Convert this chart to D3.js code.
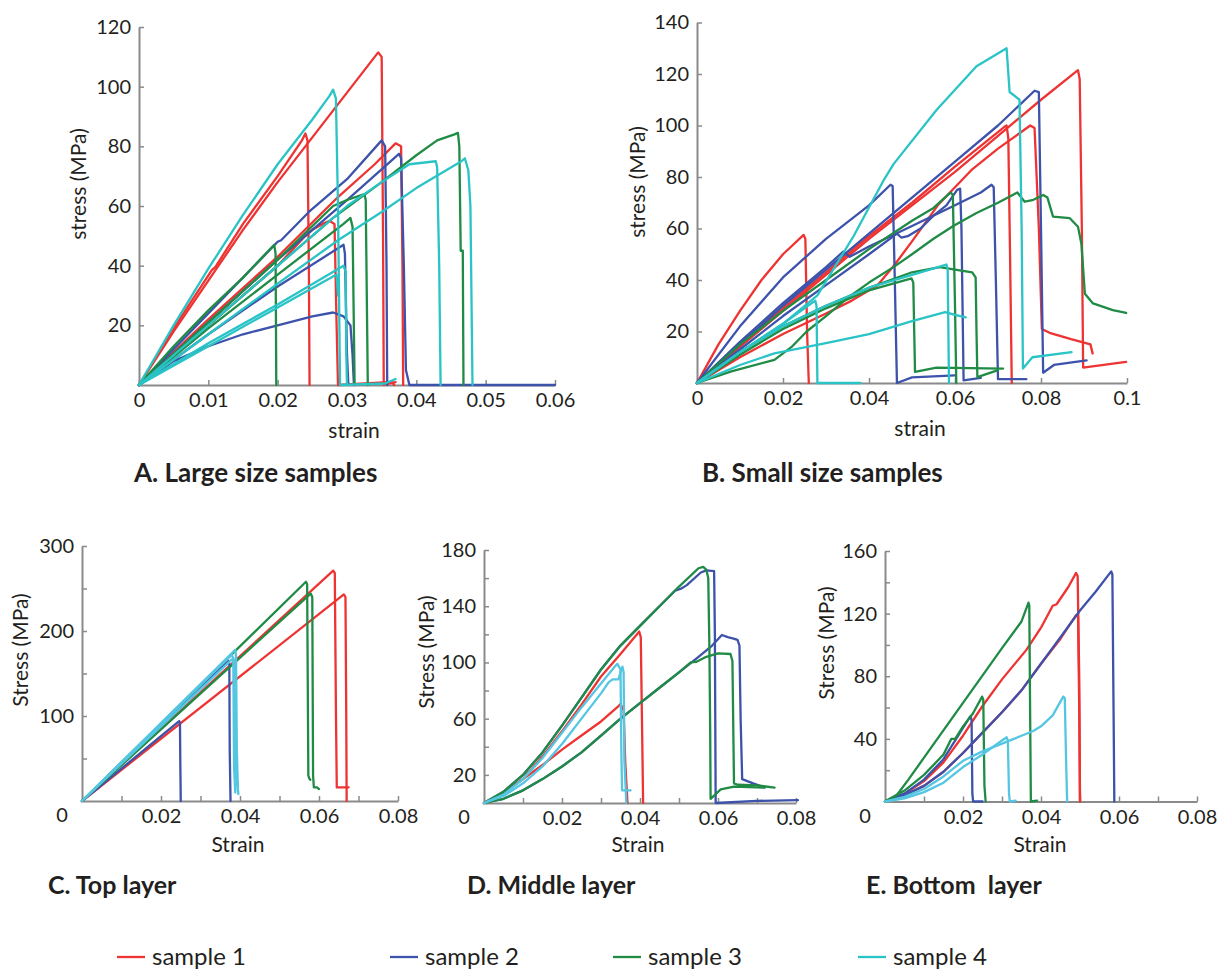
<!DOCTYPE html>
<html>
<head>
<meta charset="utf-8">
<script src="https://cdn.jsdelivr.net/npm/d3@7"></script>
<style>
  html, body { margin: 0; padding: 0; background: #ffffff; }
  svg { display: block; }
  text { font-family: "Lato", "Open Sans", sans-serif; fill: #231f20; white-space: pre; }
</style>
</head>
<body>
<svg id="chart" width="1220" height="970"></svg>
<script>
// ---------------- DATA ----------------
const sampleNames = ["sample 1", "sample 2", "sample 3", "sample 4"];
const sampleColors = ["#ee3333", "#3d52aa", "#1f8b45", "#2ac3c6"];
const layerColors  = ["#ee3333", "#3d52aa", "#1f8b45", "#55c6e2"];

// Panel A: large size samples, curves of [strain, stress]
const largeS1 = [
  [[0,0],[0.005,19],[0.0105,38.5],[0.011,39.5],[0.015,54],[0.02,70],[0.0235,82],[0.024,84.3],[0.0243,82],[0.0245,40],[0.0246,0]],
  [[0,0],[0.005,18],[0.01,35],[0.015,52],[0.02,68],[0.025,83],[0.03,98],[0.0345,111.5],[0.035,110],[0.0352,50],[0.0353,0],[0.037,1]],
  [[0,0],[0.01,22],[0.02,43],[0.0287,63],[0.034,74],[0.037,81],[0.0378,80],[0.038,40],[0.0381,0]],
  [[0,0],[0.01,20],[0.02,40],[0.024,50],[0.025,52],[0.0265,54],[0.0275,55],[0.0282,54],[0.0285,20],[0.0287,0],[0.0365,1],[0.0368,0]]
];
const largeS2 = [
  [[0,0],[0.01,24],[0.02,48],[0.0205,48.5],[0.0245,58],[0.03,69],[0.035,82],[0.0355,80],[0.0357,40],[0.0358,0]],
  [[0,0],[0.01,21],[0.02,42],[0.03,62],[0.0375,77.5],[0.0378,76],[0.0382,40],[0.0385,5],[0.039,0],[0.06,0]],
  [[0,0],[0.01,17],[0.02,33],[0.0295,47],[0.0297,44],[0.03,10],[0.0302,0]],
  [[0,0],[0.005,8],[0.01,13],[0.015,17],[0.02,20],[0.025,23],[0.028,24.3],[0.0295,23],[0.0305,20],[0.0308,10],[0.031,0]]
];
const largeS3 = [
  [[0,0],[0.005,13],[0.01,25],[0.015,36],[0.0195,47],[0.0197,44],[0.0198,0]],
  [[0,0],[0.01,20],[0.02,40],[0.028,56],[0.035,68],[0.04,77],[0.043,82],[0.0455,84],[0.046,84.5],[0.0462,80],[0.0464,45],[0.0467,45],[0.0468,0]],
  [[0,0],[0.01,21],[0.02,42],[0.028,60],[0.03,62],[0.0325,64],[0.0327,62],[0.033,0]],
  [[0,0],[0.01,19],[0.02,37],[0.0295,54],[0.0305,56],[0.0308,53],[0.0311,0]]
];
const largeS4 = [
  [[0,0],[0.005,20],[0.01,39],[0.015,57],[0.02,74],[0.025,89],[0.0275,97],[0.028,99],[0.0284,96],[0.0287,60],[0.029,0],[0.0355,0.5],[0.037,2]],
  [[0,0],[0.01,20],[0.02,40],[0.03,60],[0.035,68],[0.039,74],[0.0428,75],[0.043,73],[0.0433,40],[0.0435,0]],
  [[0,0],[0.01,17],[0.02,34],[0.0287,48.5],[0.035,58],[0.04,66],[0.0465,75],[0.047,76],[0.0475,72],[0.0478,60],[0.048,20],[0.0481,0]],
  [[0,0],[0.01,14],[0.02,27],[0.0295,40],[0.0298,38],[0.0299,10],[0.03,0]],
  [[0,0],[0.01,13],[0.02,26],[0.0285,37],[0.0287,30]]
];

// Panel B: small size samples
const smallS1 = [
  [[0,0],[0.005,15],[0.01,28],[0.015,40],[0.02,50],[0.0248,57.5],[0.0252,56],[0.0256,20],[0.026,0]],
  [[0,0],[0.01,14],[0.02,28],[0.03,42],[0.04,56],[0.05,69],[0.06,82],[0.07,96],[0.08,110],[0.0886,121.5],[0.089,118],[0.0895,60],[0.0898,6],[0.0998,8.2]],
  [[0,0],[0.01,15],[0.02,29],[0.03,43],[0.04,57],[0.05,70],[0.06,84],[0.0715,99.5],[0.072,100],[0.0724,95],[0.0728,50],[0.0732,0]],
  [[0,0],[0.01,10],[0.02,19],[0.03,27],[0.036,32],[0.042,38],[0.046,46],[0.05,55],[0.056,69],[0.064,83],[0.07,91],[0.0775,100],[0.0785,99],[0.0795,60],[0.0802,21],[0.082,19.5],[0.087,17],[0.0915,15],[0.092,11.5]]
];
const smallS2 = [
  [[0,0],[0.01,22],[0.02,41],[0.03,56],[0.04,69],[0.045,77],[0.0455,76.5],[0.046,40],[0.0465,0],[0.05,2.2],[0.06,3]],
  [[0,0],[0.01,15],[0.02,30],[0.03,44],[0.04,58],[0.05,72],[0.06,86],[0.07,100],[0.0785,113.5],[0.0795,113],[0.08,60],[0.0805,4],[0.083,7],[0.0906,8.8]],
  [[0,0],[0.01,13],[0.02,26],[0.03,38],[0.04,50],[0.0465,58],[0.0475,56.5],[0.049,57],[0.052,60],[0.055,65],[0.058,69],[0.0605,75],[0.0612,75.5],[0.0615,60],[0.062,1],[0.066,2]],
  [[0,0],[0.01,16],[0.02,31],[0.03,45],[0.034,51],[0.0355,49],[0.04,53],[0.05,61],[0.06,69],[0.066,74],[0.0685,77],[0.069,76],[0.0695,40],[0.07,1.5],[0.0766,1.5]]
];
const smallS3 = [
  [[0,0],[0.01,15],[0.02,28],[0.03,40],[0.04,52],[0.05,63],[0.055,68],[0.059,74],[0.0595,73],[0.06,30],[0.0603,0]],
  [[0,0],[0.008,4.5],[0.018,9],[0.022,14],[0.0255,20],[0.03,26],[0.035,33],[0.04,39],[0.0457,45],[0.05,50],[0.055,56],[0.0596,61],[0.065,66],[0.07,70],[0.0745,74],[0.0762,70.4],[0.078,71],[0.0805,73],[0.0815,72],[0.0828,64.6],[0.0867,64],[0.0886,60.7],[0.0894,54],[0.0902,34.7],[0.0921,30.9],[0.0967,28.3],[0.0998,27.2]],
  [[0,0],[0.01,12],[0.02,22],[0.03,30],[0.04,37],[0.05,43],[0.0565,45],[0.06,44],[0.064,43],[0.0648,41],[0.065,20],[0.0652,2.3],[0.07,5]],
  [[0,0],[0.01,11],[0.02,21],[0.03,29],[0.04,36],[0.0499,40.6],[0.0503,39],[0.0507,4.3],[0.0557,6],[0.0712,5.6]]
];
const smallS4 = [
  [[0,0],[0.01,12],[0.02,23],[0.028,34],[0.0364,57],[0.0435,79],[0.0457,85],[0.0557,106],[0.065,123],[0.072,130],[0.0727,113],[0.075,110],[0.0755,60],[0.0758,5.6],[0.078,10],[0.0871,12]],
  [[0,0],[0.01,12],[0.02,23],[0.0275,32],[0.0278,30],[0.028,0],[0.038,0]],
  [[0,0],[0.01,12],[0.02,22],[0.03,30],[0.04,37],[0.05,42],[0.058,46],[0.0583,44],[0.0586,0]],
  [[0,0],[0.01,7],[0.018,11.5],[0.03,15.5],[0.04,19],[0.05,24],[0.0577,27.5],[0.06,26.5],[0.0625,25.5]]
];

// Panel C: top layer
const topS1 = [
  [[0,0],[0.0636,271],[0.064,268],[0.0643,100],[0.0645,16],[0.0675,16]],
  [[0,0],[0.0663,243],[0.0667,240],[0.0669,100],[0.067,0]]
];
const topS2 = [
  [[0,0],[0.0246,94],[0.0248,92],[0.0249,40],[0.025,0]],
  [[0,0],[0.0371,165],[0.0373,160],[0.0374,60],[0.0376,0]]
];
const topS3 = [
  [[0,0],[0.0567,258],[0.057,255],[0.0573,30],[0.0575,27],[0.0578,25]],
  [[0,0],[0.0579,244],[0.0583,240],[0.0585,30],[0.0587,16],[0.0595,16],[0.06,14]]
];
const topS4 = [
  [[0,0],[0.0388,178],[0.039,170],[0.0392,60],[0.0395,10]],
  [[0,0],[0.0379,172],[0.0383,168],[0.0385,40],[0.0388,10]],
  [[0,0],[0.0383,168],[0.0386,160],[0.039,30],[0.0396,8]]
];

// Panel D: middle layer
const middleS1 = [
  [[0,0],[0.005,7],[0.01,17],[0.015,33],[0.02,51],[0.025,70],[0.03,90],[0.035,106],[0.0395,121],[0.0398,122],[0.0402,118],[0.0405,60],[0.0408,0]],
  [[0,0],[0.005,7],[0.01,17],[0.015,27],[0.02,38],[0.025,48],[0.03,58],[0.0345,69],[0.035,70.5],[0.0358,66],[0.0362,30],[0.0368,0]]
];
const middleS2 = [
  [[0,0],[0.005,8],[0.01,20],[0.015,36],[0.02,55],[0.025,75],[0.03,95],[0.035,112],[0.04,126],[0.045,140],[0.049,151],[0.0505,152.5],[0.052,155],[0.0556,164],[0.057,165.5],[0.059,165],[0.0592,120],[0.0594,0],[0.07,1.5],[0.0805,2]],
  [[0,0],[0.005,3],[0.01,9],[0.015,17],[0.02,26],[0.025,36],[0.03,48],[0.035,60],[0.04,71],[0.045,82],[0.05,93],[0.055,104],[0.0585,112],[0.061,119.5],[0.0625,118],[0.064,117],[0.065,116],[0.0655,112],[0.0658,60],[0.0662,17],[0.069,14],[0.072,11]]
];
const middleS3 = [
  [[0,0],[0.005,8],[0.01,20],[0.015,36],[0.02,55],[0.025,75],[0.03,95],[0.035,112],[0.04,126],[0.045,140],[0.05,154],[0.055,167],[0.0562,168],[0.057,166],[0.0575,160],[0.0578,110],[0.058,50],[0.0581,3],[0.0607,9.7],[0.0641,11.6],[0.0718,11]],
  [[0,0],[0.005,3],[0.01,9],[0.015,17],[0.02,26],[0.025,36],[0.03,48],[0.035,60],[0.04,71],[0.045,82],[0.05,93],[0.053,100],[0.0545,100.5],[0.057,104],[0.06,106.5],[0.0632,106],[0.0637,101],[0.0641,14],[0.065,13],[0.07,12.5],[0.0745,11]]
];
const middleS4 = [
  [[0,0],[0.005,6],[0.01,17],[0.015,32],[0.02,50],[0.025,68],[0.03,85],[0.0335,97],[0.0342,99],[0.035,95],[0.0352,40],[0.0354,9],[0.0376,9]],
  [[0,0],[0.005,5],[0.01,14],[0.015,26],[0.02,42],[0.025,60],[0.03,78],[0.032,86],[0.033,88],[0.0345,88],[0.0352,95],[0.0355,97],[0.0358,93],[0.036,30],[0.0365,0]]
];

// Panel E: bottom layer
const bottomS1 = [
  [[0,0],[0.005,5],[0.01,13],[0.015,25],[0.02,42],[0.025,61],[0.03,78],[0.0363,97],[0.04,111],[0.043,125],[0.044,126],[0.047,137],[0.049,146],[0.0494,144],[0.0498,80],[0.05,0]],
  [[0,0],[0.005,4],[0.01,10],[0.015,19],[0.02,31],[0.025,44],[0.03,57],[0.035,71],[0.04,88],[0.045,104],[0.049,119],[0.0495,118],[0.0498,60],[0.05,0]]
];
const bottomS2 = [
  [[0,0],[0.005,4],[0.01,10],[0.015,19],[0.02,31],[0.025,44],[0.03,57],[0.035,71],[0.04,88],[0.045,105],[0.05,122],[0.054,134],[0.058,147],[0.0583,145],[0.0586,60],[0.0588,0]],
  [[0,0],[0.005,5],[0.01,14],[0.015,27],[0.02,47],[0.0219,54.5],[0.0222,52],[0.0224,5],[0.0226,0],[0.025,0]]
];
const bottomS3 = [
  [[0,0],[0.003,4],[0.006,14],[0.01,28],[0.02,63],[0.03,98],[0.035,115],[0.0368,127],[0.037,125],[0.0372,60],[0.0374,0],[0.039,0.5]],
  [[0,0],[0.005,7],[0.01,17],[0.015,30],[0.017,40],[0.018,40],[0.02,48],[0.0225,56],[0.0249,67],[0.0252,65],[0.0255,10],[0.0258,0]]
];
const bottomS4 = [
  [[0,0],[0.005,3],[0.01,8],[0.015,16],[0.02,26],[0.025,32],[0.03,37],[0.035,42],[0.038,45],[0.04,48],[0.043,55],[0.0457,67],[0.0461,66],[0.0464,30],[0.0467,0]],
  [[0,0],[0.005,2],[0.01,6],[0.015,12],[0.02,22],[0.025,30],[0.03,39],[0.0312,41],[0.0315,39],[0.0318,5],[0.032,0],[0.0335,0.5]]
];

// Tick values and labels
const xTicksA = [0, 0.01, 0.02, 0.03, 0.04, 0.05, 0.06];
const xLabelsA = ["0", "0.01", "0.02", "0.03", "0.04", "0.05", "0.06"];
const yTicksA = [20, 40, 60, 80, 100, 120];
const yLabelsA = ["20", "40", "60", "80", "100", "120"];
const xTicksB = [0, 0.02, 0.04, 0.06, 0.08, 0.1];
const xLabelsB = ["0", "0.02", "0.04", "0.06", "0.08", "0.1"];
const yTicksB = [20, 40, 60, 80, 100, 120, 140];
const yLabelsB = ["20", "40", "60", "80", "100", "120", "140"];
const xTicksLayer = [0.01, 0.02, 0.03, 0.04, 0.05, 0.06, 0.07, 0.08];
const xLabelsLayer = ["", "0.02", "", "0.04", "", "0.06", "", "0.08"];
const yTicksC = [50, 100, 150, 200, 250, 300];
const yLabelsC = ["", "100", "", "200", "", "300"];
const yTicksD = [20, 40, 60, 80, 100, 120, 140, 160, 180];
const yLabelsD = ["20", "", "60", "", "100", "", "140", "", "180"];
const yTicksE = [20, 40, 60, 80, 100, 120, 140, 160];
const yLabelsE = ["", "40", "", "80", "", "120", "", "160"];

// ---------------- DRAWING ----------------
const svg = d3.select("#chart");
const axisColor = "#8a8a8a";

const panels = [
  { series: [largeS1, largeS2, largeS3, largeS4], colors: sampleColors,
    xDom: [0, 0.06], xRange: [139, 555], yDom: [0, 120], yRange: [385, 27],
    xTicks: xTicksA, xLabels: xLabelsA, yTicks: yTicksA, yLabels: yLabelsA,
    xTitle: "strain", xTitlePos: [354, 438], yTitle: "stress (MPa)", yTitlePos: [86, 184],
    title: "A. Large size samples", titlePos: [134, 482], titleSize: 26, originLabel: null },
  { series: [smallS1, smallS2, smallS3, smallS4], colors: sampleColors,
    xDom: [0, 0.1], xRange: [697, 1127], yDom: [0, 140], yRange: [383, 22.5],
    xTicks: xTicksB, xLabels: xLabelsB, yTicks: yTicksB, yLabels: yLabelsB,
    xTitle: "strain", xTitlePos: [920, 436], yTitle: "stress (MPa)", yTitlePos: [645, 182],
    title: "B. Small size samples", titlePos: [702, 482], titleSize: 26, originLabel: null },
  { series: [topS1, topS2, topS3, topS4], colors: layerColors,
    xDom: [0, 0.08], xRange: [82, 398], yDom: [0, 300], yRange: [801, 546],
    xTicks: xTicksLayer, xLabels: xLabelsLayer, yTicks: yTicksC, yLabels: yLabelsC,
    xTitle: "Strain", xTitlePos: [238, 852], yTitle: "Stress (MPa)", yTitlePos: [28, 650],
    title: "C. Top layer", titlePos: [48, 894], titleSize: 25, originLabel: "0" },
  { series: [middleS1, middleS2, middleS3, middleS4], colors: layerColors,
    xDom: [0, 0.08], xRange: [484, 796], yDom: [0, 180], yRange: [803, 550],
    xTicks: xTicksLayer, xLabels: xLabelsLayer, yTicks: yTicksD, yLabels: yLabelsD,
    xTitle: "Strain", xTitlePos: [638, 852], yTitle: "Stress (MPa)", yTitlePos: [434, 652],
    title: "D. Middle layer", titlePos: [467, 894], titleSize: 25, originLabel: "0" },
  { series: [bottomS1, bottomS2, bottomS3, bottomS4], colors: layerColors,
    xDom: [0, 0.08], xRange: [885, 1197], yDom: [0, 160], yRange: [801.5, 551],
    xTicks: xTicksLayer, xLabels: xLabelsLayer, yTicks: yTicksE, yLabels: yLabelsE,
    xTitle: "Strain", xTitlePos: [1040, 852], yTitle: "Stress (MPa)", yTitlePos: [834, 643],
    title: "E. Bottom  layer", titlePos: [866, 894], titleSize: 25, originLabel: "0" }
];

panels.forEach(p => {
  const x = d3.scaleLinear().domain(p.xDom).range(p.xRange);
  const y = d3.scaleLinear().domain(p.yDom).range(p.yRange);
  const g = svg.append("g");

  // axes
  const xAxis = d3.axisBottom(x).tickValues(p.xTicks)
    .tickFormat((d, i) => p.xLabels[i]).tickSizeInner(-5).tickSizeOuter(0).tickPadding(10);
  const yAxis = d3.axisLeft(y).tickValues(p.yTicks)
    .tickFormat((d, i) => p.yLabels[i]).tickSizeInner(-5).tickSizeOuter(0).tickPadding(8);

  const gx = g.append("g").attr("transform", `translate(0,${p.yRange[0]})`).call(xAxis);
  const gy = g.append("g").attr("transform", `translate(${p.xRange[0]},0)`).call(yAxis);
  [gx, gy].forEach(a => {
    a.select(".domain").attr("stroke", axisColor).attr("stroke-width", 2);
    a.selectAll(".tick line").attr("stroke", axisColor).attr("stroke-width", 1.5);
    a.selectAll(".tick text").attr("font-size", 20).attr("font-family", "Lato").attr("fill", "#231f20");
  });
  gx.selectAll(".tick text").attr("dy", "0.6em");

  if (p.originLabel) {
    g.append("text").attr("x", p.xRange[0] - 20).attr("y", p.yRange[0] + 21)
      .attr("text-anchor", "middle").attr("font-size", 20).text(p.originLabel);
  }

  // curves
  const line = d3.line().x(d => x(d[0])).y(d => y(d[1]));
  p.series.forEach((curves, si) => {
    curves.forEach(c => {
      g.append("path").attr("d", line(c)).attr("fill", "none")
        .attr("stroke", p.colors[si]).attr("stroke-width", 2.3)
        .attr("stroke-linejoin", "round").attr("stroke-linecap", "round");
    });
  });

  // titles
  g.append("text").attr("x", p.xTitlePos[0]).attr("y", p.xTitlePos[1])
    .attr("text-anchor", "middle").attr("font-size", 21).text(p.xTitle);
  g.append("text").attr("transform", `translate(${p.yTitlePos[0]},${p.yTitlePos[1]}) rotate(-90)`)
    .attr("text-anchor", "middle").attr("font-size", 21).text(p.yTitle);
  g.append("text").attr("x", p.titlePos[0]).attr("y", p.titlePos[1])
    .attr("font-size", p.titleSize).attr("font-weight", "bold")
    .attr("xml:space", "preserve").text(p.title);
});

// legend
const legendX = [117, 390, 613, 858];
const leg = svg.append("g");
sampleNames.forEach((name, i) => {
  leg.append("line").attr("x1", legendX[i]).attr("x2", legendX[i] + 28)
    .attr("y1", 957).attr("y2", 957).attr("stroke", sampleColors[i]).attr("stroke-width", 2.3);
  leg.append("text").attr("x", legendX[i] + 35).attr("y", 965)
    .attr("font-size", 24).text(name);
});
</script>
</body>
</html>
